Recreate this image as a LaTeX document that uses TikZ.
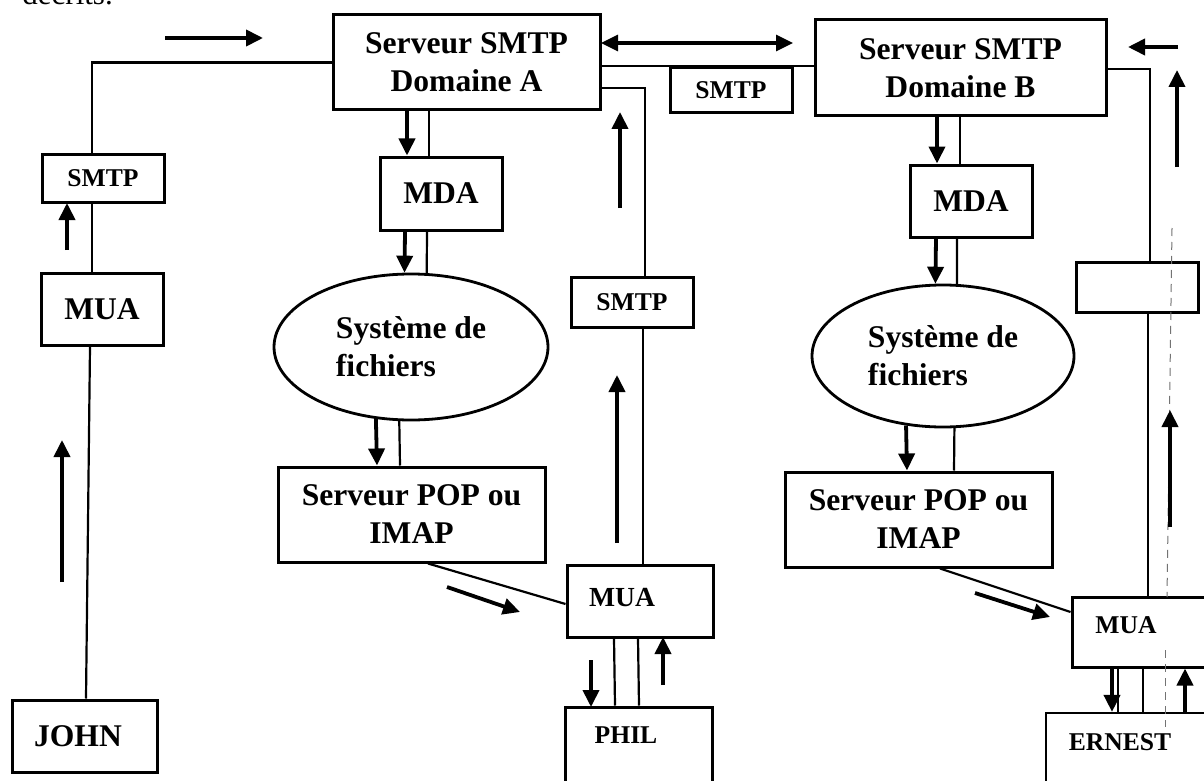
\documentclass[tikz,border=0pt]{standalone}
\usepackage{fontspec}
\setmainfont{Liberation Serif}
\usetikzlibrary{shapes.geometric,arrows.meta}
\tikzset{
  box/.style={draw, line width=1.5pt, rectangle, inner sep=0pt, align=center},
  ell/.style={draw, line width=1.4pt, ellipse, inner sep=0pt, align=left},
  big/.style={font=\fontsize{15.8}{19}\selectfont\bfseries},
  small/.style={font=\fontsize{12.8}{15}\selectfont\bfseries},
  conn/.style={line width=1.1pt},
  ghost/.style={line width=0.5pt, black!55, dashed, dash pattern=on 4pt off 3pt},
  arr/.style={line width=1.9pt, -{Triangle[length=8.5pt,width=8pt]}},
  darr/.style={line width=1.6pt, {Triangle[length=8.5pt,width=8pt]}-{Triangle[length=8.5pt,width=8pt]}},
}
\begin{document}
\begin{tikzpicture}[x=0.5pt,y=-0.5pt]
\clip (0,0) rectangle (1204,781);
\fill[white] (0,0) rectangle (1204,781);

% cut-off text at the top
\node[anchor=base west, inner sep=0pt, font=\fontsize{15.5}{19}\selectfont] (top) at (22,5) {décrits.};

% ---------- nodes ----------
\node[box, big, minimum width=133.5pt, minimum height=47.5pt] (srvA) at (466.5,62.5) {Serveur SMTP\\Domaine A};
\node[box, big, minimum width=145.5pt, minimum height=48pt] (srvB) at (960.5,68) {Serveur SMTP\\Domaine B};
\node[box, small, minimum width=61pt, minimum height=22.5pt] (smtpM) at (731,90.5) {SMTP};
\node[box, small, minimum width=61pt, minimum height=24pt] (smtpL) at (103,178) {SMTP};
\node[box, small, minimum width=61pt, minimum height=25pt] (smtp2) at (632,302) {SMTP};
\node[box, big, minimum width=61pt, minimum height=36.5pt] (mdaA) at (441,193.5) {MDA};
\node[box, big, minimum width=61pt, minimum height=36pt] (mdaB) at (971,201) {MDA};
\node[box, big, minimum width=61pt, minimum height=36pt] (muaL) at (102,309) {MUA};
\node[box, big, minimum width=72.5pt, minimum height=36pt] (john) at (84.5,736) {};
\node[big] (johnt) at (78,736) {JOHN};
\node[ell, big, minimum width=137pt, minimum height=73pt] (ellA) at (411,347) {Système de\\fichiers};
\node[ell, big, minimum width=131pt, minimum height=71pt] (ellB) at (943,356) {Système de\\fichiers};
\node[box, big, minimum width=133.5pt, minimum height=47.5pt] (popA) at (411.5,514.5) {Serveur POP ou\\IMAP};
\node[box, big, minimum width=133.5pt, minimum height=47.5pt] (popB) at (918.5,519.5) {Serveur POP ou\\IMAP};
\node[box, minimum width=73pt, minimum height=36pt] (muaP) at (640,601) {};
\node[small, font=\fontsize{13.8}{15}\selectfont\bfseries] (muaPt) at (622,598) {MUA};
\node[box, minimum width=73.5pt, minimum height=46.5pt] (phil) at (638.5,753.5) {};
\node[small] (philt) at (626,735) {PHIL};
\node[box, minimum width=71.5pt, minimum height=35pt] (muaB) at (1143.5,632) {};
\node[small] (muaBt) at (1126,625) {MUA};
\node[box, line width=1.1pt, minimum width=87pt, minimum height=43.5pt] (ernest) at (1133,756.5) {};
\node[small] (ernestt) at (1120,742) {ERNEST};
\node[box, minimum width=61pt, minimum height=25pt] (emptyB) at (1137,287) {};

% ---------- connectors ----------
% left column
\draw[conn] ([xshift=-5.5pt]smtpL.north) |- (srvA.west);
\draw[conn, line width=0.7pt] ([xshift=-5.5pt]smtpL.south) -- ([xshift=-5pt]muaL.north);
\draw[conn] ([xshift=-6pt]muaL.south) -- ([xshift=0.75pt]john.north);
% A <-> B
\draw[conn] ([yshift=-1.75pt]srvA.east) -- ([yshift=1pt]srvB.west);
% A -> SMTP -> MUA (Phil)
\draw[conn] ([yshift=-12.75pt]srvA.east) -| ([xshift=6.5pt]smtp2.north);
\draw[conn] ([xshift=5.5pt]smtp2.south) -- ([xshift=1.5pt]muaP.north);
% domain A chain
\draw[arr] ([xshift=-29.75pt]srvA.south) -- ([xshift=-17pt]mdaA.north);
\draw[conn] ([xshift=-18.75pt]srvA.south) -- ([xshift=-6pt]mdaA.north);
\draw[arr] ([xshift=-18pt]mdaA.south) -- (ellA.95);
\draw[conn] ([xshift=-7pt]mdaA.south) -- (ellA.78);
\draw[arr] (ellA.244) -- ([xshift=-17.25pt]popA.north);
\draw[conn] (ellA.261) -- ([xshift=-5.75pt]popA.north);
\draw[conn] ([xshift=8.25pt]popA.south) -- ([yshift=-1.5pt]muaP.west);
% MUA <-> PHIL
\draw[conn] ([xshift=-13pt]muaP.south) -- ([xshift=-11.75pt]phil.north);
\draw[conn] ([xshift=-1pt]muaP.south) -- ([xshift=0.25pt]phil.north);
% domain B chain
\draw[arr] ([xshift=-11.75pt]srvB.south) -- ([xshift=-17pt]mdaB.north);
\draw[conn] ([xshift=-0.25pt]srvB.south) -- ([xshift=-5.5pt]mdaB.north);
\draw[arr] ([xshift=-17.5pt]mdaB.south) -- (ellB.96);
\draw[conn] ([xshift=-7pt]mdaB.south) -- (ellB.79);
\draw[arr] (ellB.242) -- ([xshift=-5.75pt]popB.north);
\draw[conn] (ellB.279) -- ([xshift=17.75pt]popB.north);
\draw[conn] ([xshift=10.75pt]popB.south) -- ([yshift=10pt]muaB.west);
% right column
\draw[conn] ([yshift=-0.5pt]srvB.east) -| ([xshift=6.5pt]emptyB.north);
\draw[conn, line width=1.4pt] ([xshift=5.5pt]emptyB.south) -- ([xshift=2.25pt]muaB.north);
% MUA <-> ERNEST
\draw[arr] ([xshift=-15.75pt]muaB.south) -- ([xshift=-10.5pt]ernest.north);
\draw[conn] ([xshift=-12.75pt]muaB.south) -- ([xshift=-7.5pt]ernest.north);
\draw[conn] ([xshift=-0.25pt]muaB.south) -- ([xshift=5pt]ernest.north);
\draw[arr] ([xshift=26pt]ernest.north) -- ([xshift=20.75pt]muaB.south);
% faint scan line
\coordinate (g1) at (1172,228);
\coordinate (g2) at (1167,597);
\coordinate (g3) at (1165,650);
\coordinate (g4) at (1165,727);
\draw[ghost] (g1) -- (g2);
\draw[ghost] (g3) -- (g4);

% ---------- free arrows ----------
\draw[arr] (165,38) -- (263,38);
\draw[arr] (67,250) -- (67,203);
\draw[arr] (62,582) -- (62,440);
\draw[darr] (601,43) -- (793,43);
\draw[arr] (620,208) -- (620,112);
\draw[arr] (617,543) -- (617,375);
\draw[arr] (447,587) -- (520,612);
\draw[arr] (591,660) -- (591,707);
\draw[arr] (663,685) -- (663,637);
\draw[arr] (1178,47) -- (1128,47);
\draw[arr] (1177,167) -- (1177,70);
\draw[arr] (1170,527) -- (1170,410);
\draw[arr] (975,593) -- (1050,617);
\end{tikzpicture}
\end{document}
